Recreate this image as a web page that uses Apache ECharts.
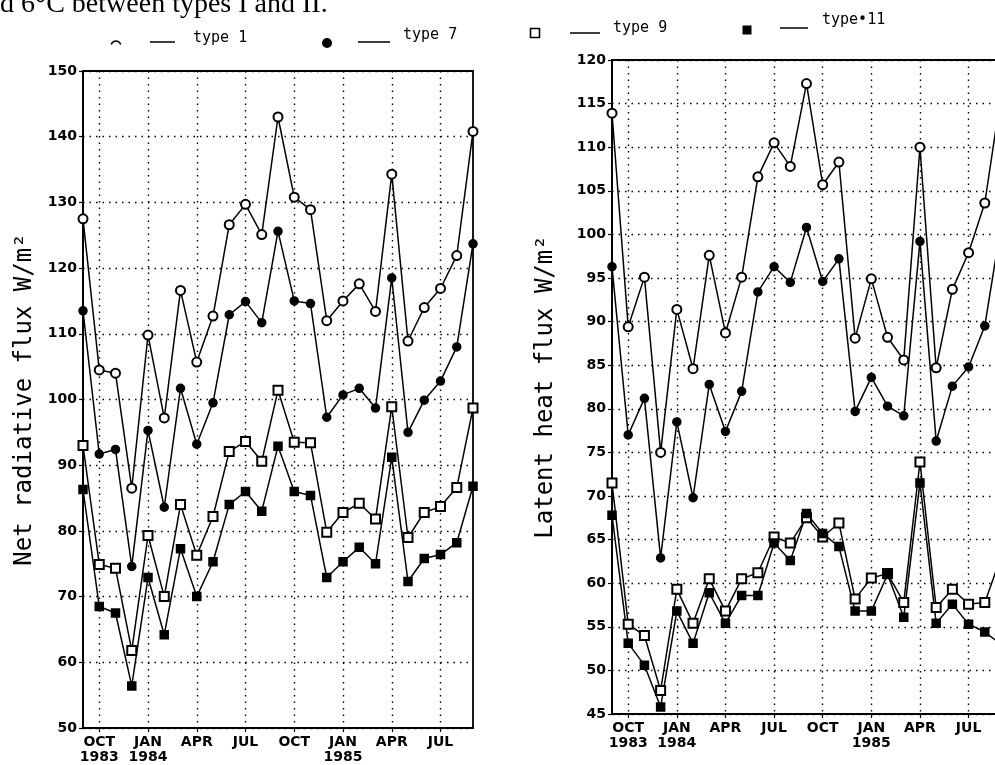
<!DOCTYPE html>
<html>
<head>
<meta charset="utf-8">
<script src="https://cdn.jsdelivr.net/npm/echarts@6/dist/echarts.min.js"></script>
<style>
  html, body { margin: 0; padding: 0; background: #fff; overflow: hidden; }
  /* wider than the window: the right panel runs past the page edge */
  #chart { width: 1010px; height: 765px; }
</style>
</head>
<body>
<div id="chart"></div>
<script>
// months, Sep 1983 .. Sep 1985
const months = [
  "1983-09", "1983-10", "1983-11", "1983-12", "1984-01", "1984-02", "1984-03",
  "1984-04", "1984-05", "1984-06", "1984-07", "1984-08", "1984-09", "1984-10",
  "1984-11", "1984-12", "1985-01", "1985-02", "1985-03", "1985-04", "1985-05",
  "1985-06", "1985-07", "1985-08", "1985-09",
];
const monthLabels = [
  "", "OCT\n1983", "", "", "JAN\n1984", "", "", "APR", "", "", "JUL", "", "",
  "OCT", "", "", "JAN\n1985", "", "", "APR", "", "", "JUL", "", "",
];
const netTicks = [50, 150, 10];
const latTicks = [45, 120, 5];

// Net radiative flux W/m2
const netType1 = [127.5, 104.5, 104, 86.5, 109.8, 97.2, 116.6, 105.7, 112.7, 126.6, 129.7, 125.1, 143, 130.8, 128.9, 112, 115, 117.6, 113.4, 134.3, 108.9, 114, 116.9, 121.9, 140.8];
const netType7 = [113.5, 91.7, 92.4, 74.6, 95.3, 83.6, 101.7, 93.2, 99.5, 112.9, 114.9, 111.7, 125.6, 115, 114.6, 97.3, 100.7, 101.7, 98.7, 118.5, 95, 99.9, 102.8, 108, 123.7];
const netType9 = [93, 74.9, 74.3, 61.8, 79.3, 70, 84, 76.3, 82.2, 92.1, 93.6, 90.6, 101.4, 93.5, 93.4, 79.8, 82.8, 84.2, 81.8, 98.9, 79, 82.8, 83.7, 86.6, 98.7];
const netType11 = [86.3, 68.5, 67.5, 56.4, 72.9, 64.2, 77.3, 70, 75.3, 84, 86, 83, 92.9, 86, 85.4, 72.9, 75.3, 77.5, 75, 91.2, 72.3, 75.8, 76.4, 78.2, 86.8];

// Latent heat flux W/m2
const latType1 = [113.9, 89.4, 95.1, 75, 91.4, 84.6, 97.6, 88.7, 95.1, 106.6, 110.5, 107.8, 117.3, 105.7, 108.3, 88.1, 94.9, 88.2, 85.6, 110, 84.7, 93.7, 97.9, 103.6, 116];
const latType7 = [96.3, 77, 81.2, 62.9, 78.5, 69.8, 82.8, 77.4, 82, 93.4, 96.3, 94.5, 100.8, 94.6, 97.2, 79.7, 83.6, 80.3, 79.2, 99.2, 76.3, 82.6, 84.8, 89.5, 101];
const latType9 = [71.5, 55.3, 54, 47.7, 59.3, 55.4, 60.5, 56.8, 60.5, 61.2, 65.3, 64.6, 67.5, 65.3, 66.9, 58.2, 60.6, 61.1, 57.8, 73.9, 57.2, 59.3, 57.6, 57.8, 63];
const latType11 = [67.8, 53.1, 50.6, 45.8, 56.8, 53.1, 58.9, 55.4, 58.6, 58.6, 64.6, 62.6, 68, 65.7, 64.2, 56.8, 56.8, 61, 56.1, 71.5, 55.4, 57.6, 55.3, 54.4, 53];

addEventListener("DOMContentLoaded", () => {
  const chart = echarts.init(document.getElementById("chart"));

  const dotted = { color: "#000", width: 1.4, type: [1.5, 5] };
  const labelFont = { color: "#000", fontFamily: "DejaVu Sans", fontWeight: "bold", fontSize: 14 };
  const showTick = (i) => monthLabels[i] !== "";

  const makeX = (gridIndex) => ({
    gridIndex,
    type: "category",
    data: months,
    boundaryGap: false,
    axisLine: { lineStyle: { color: "#000", width: 1.8 } },
    axisTick: { interval: showTick, length: 4, lineStyle: { color: "#000", width: 1.2 } },
    axisLabel: {
      ...labelFont,
      interval: showTick,
      formatter: (v, i) => monthLabels[i],
      lineHeight: 15,
      margin: 7,
    },
    splitLine: { show: true, interval: showTick, lineStyle: dotted },
  });

  const makeY = (gridIndex, ticks, name, gap) => ({
    gridIndex,
    type: "value",
    min: ticks[0],
    max: ticks[1],
    interval: ticks[2],
    name,
    nameLocation: "middle",
    nameRotate: 90,
    nameGap: gap,
    nameTextStyle: { color: "#000", fontFamily: "DejaVu Sans Mono", fontSize: 24 },
    axisLine: { show: true, lineStyle: { color: "#000", width: 1.8 } },
    axisTick: { show: true, length: 4, lineStyle: { color: "#000", width: 1.2 } },
    axisLabel: { ...labelFont, margin: 6 },
    splitLine: { show: true, lineStyle: dotted },
  });

  const makeSeries = (name, data, symbol, size, idx) => ({
    name,
    type: "line",
    data,
    xAxisIndex: idx,
    yAxisIndex: idx,
    symbol,
    symbolSize: size,
    showAllSymbol: true,
    lineStyle: { color: "#000", width: 1.5 },
    itemStyle: { color: "#000", borderColor: "#000", borderWidth: 1.5 },
    emphasis: { disabled: true },
    animation: false,
  });

  // legend drawn like the printed one: marker, short line, label
  const legendItem = (shape, lineX0, lineX1, lineY, label, tx, ty) => [
    shape,
    {
      type: "line",
      shape: { x1: lineX0, y1: lineY, x2: lineX1, y2: lineY },
      style: { stroke: "#000", lineWidth: 1.5 },
    },
    {
      type: "text",
      x: tx,
      y: ty,
      style: { text: label, fill: "#000", font: "15px 'DejaVu Sans Mono'", verticalAlign: "middle" },
    },
  ];

  const getOption = () => ({
    animation: false,
    grid: [
      { left: 83, top: 71, width: 390, height: 657, show: true, borderColor: "#000", borderWidth: 1.8 },
      { left: 612, top: 60, width: 389, height: 654, show: true, borderColor: "#000", borderWidth: 1.8 },
    ],
    xAxis: [makeX(0), makeX(1)],
    yAxis: [
      makeY(0, netTicks, "Net radiative flux W/m²", 46),
      makeY(1, latTicks, "Latent heat flux W/m²", 54),
    ],
    series: [
      makeSeries("type 1", netType1, "emptyCircle", 9, 0),
      makeSeries("type 7", netType7, "circle", 8, 0),
      makeSeries("type 9", netType9, "emptyRect", 9, 0),
      makeSeries("type 11", netType11, "rect", 8, 0),
      makeSeries("type 1", latType1, "emptyCircle", 9, 1),
      makeSeries("type 7", latType7, "circle", 8, 1),
      makeSeries("type 9", latType9, "emptyRect", 9, 1),
      makeSeries("type 11", latType11, "rect", 8, 1),
    ],
    graphic: [
      {
        type: "text",
        x: 0,
        y: 19,
        style: { text: "d 6°C between types I and II.", fill: "#000", font: "28px 'Liberation Serif'", verticalAlign: "bottom" },
      },
      ...legendItem(
        { type: "arc", shape: { cx: 116, cy: 46, r: 5, startAngle: Math.PI * 1.1, endAngle: Math.PI * 1.9 }, style: { stroke: "#000", fill: null, lineWidth: 1.6 } },
        150, 175, 42, "type 1", 193, 38
      ),
      ...legendItem(
        { type: "circle", shape: { cx: 327, cy: 43, r: 5 }, style: { fill: "#000" } },
        358, 390, 42, "type 7", 403, 35
      ),
      ...legendItem(
        { type: "rect", shape: { x: 530.5, y: 28.5, width: 9, height: 9 }, style: { stroke: "#000", fill: "#fff", lineWidth: 1.6 } },
        570, 600, 33, "type 9", 613, 28
      ),
      ...legendItem(
        { type: "rect", shape: { x: 742.5, y: 25.5, width: 9, height: 9 }, style: { fill: "#000" } },
        780, 808, 28, "type•11", 822, 20
      ),
    ],
  });

  chart.setOption(getOption());
});
</script>
</body>
</html>
